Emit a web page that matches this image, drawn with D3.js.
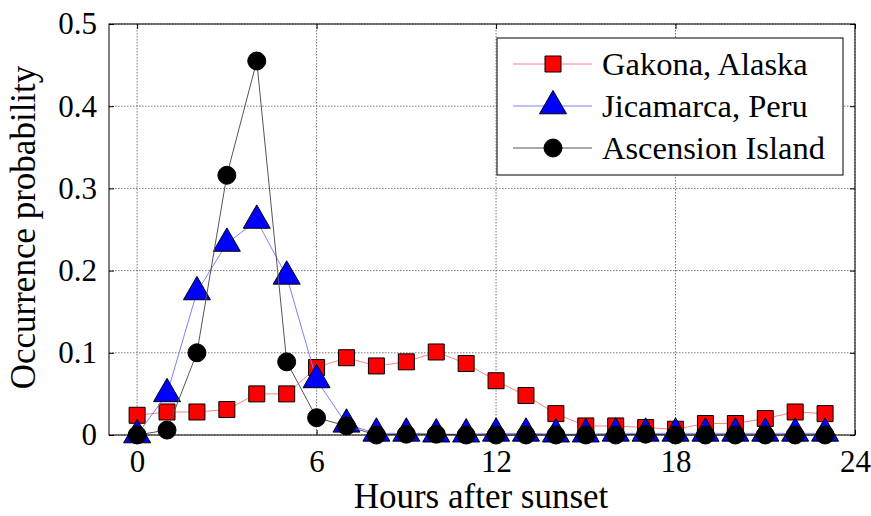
<!DOCTYPE html>
<html>
<head>
<meta charset="utf-8">
<script src="https://cdn.jsdelivr.net/npm/d3@7"></script>
<style>
  body { margin: 0; background: #fff; }
  svg { display: block; }
  text { font-family: "Liberation Serif", "Times New Roman", serif; fill: #000; }
</style>
</head>
<body>
<svg id="chart" width="871" height="516"></svg>
<script>
// ---- data ----
const hours = [0,1,2,3,4,5,6,7,8,9,10,11,12,13,14,15,16,17,18,19,20,21,22,23];
const gakona = [0.024,0.028,0.028,0.031,0.050,0.050,0.082,0.094,0.084,0.089,0.101,0.087,0.066,0.048,0.026,0.011,0.011,0.009,0.007,0.014,0.014,0.020,0.028,0.026];
const jicamarca = [0.000,0.050,0.174,0.233,0.261,0.193,0.067,0.013,0.002,0.002,0.001,0.001,0.002,0.002,0.001,0.001,0.002,0.002,0.002,0.002,0.002,0.002,0.002,0.002];
const ascension = [0.000,0.006,0.100,0.316,0.455,0.089,0.021,0.011,0.000,0.001,0.001,0.000,0.000,0.000,0.000,0.000,0.000,0.001,0.000,0.000,0.000,0.000,0.000,0.000];
const seriesNames = ["Gakona, Alaska", "Jicamarca, Peru", "Ascension Island"];
const xTicks = [0, 6, 12, 18, 24];
const yTicks = [0, 0.1, 0.2, 0.3, 0.4, 0.5];
const xLabel = "Hours after sunset";
const yLabel = "Occurrence probability";

// ---- layout ----
const FONT = "'Liberation Serif', 'Times New Roman', serif";
const svg = d3.select("#chart");
const L = 109, R = 855, T = 24, B = 435;
const x = d3.scaleLinear().domain([-0.94, 24]).range([L, R]);
const y = d3.scaleLinear().domain([0, 0.5]).range([B, T]);

const styles = [
  { line: "#ff8080", fill: "#ff0000", symbol: d3.symbolSquare, size: 256 },
  { line: "#8080ff", fill: "#0000ff", symbol: d3.symbolTriangle, size: 315 },
  { line: "#555555", fill: "#000000", symbol: d3.symbolCircle, size: 254 }
];
const allSeries = [gakona, jicamarca, ascension];

// grid
const grid = svg.append("g");
xTicks.forEach(t => {
  grid.append("line").attr("x1", x(t)).attr("x2", x(t)).attr("y1", T).attr("y2", B)
    .attr("stroke", "#777").attr("stroke-width", 1).attr("stroke-dasharray", "1.5,1.5");
});
yTicks.forEach(t => {
  grid.append("line").attr("x1", L).attr("x2", R).attr("y1", y(t)).attr("y2", y(t))
    .attr("stroke", "#777").attr("stroke-width", 1).attr("stroke-dasharray", "1.5,1.5");
});

// axes (inward ticks, all sides)
const tickLen = 5;
const axB = d3.axisBottom(x).tickValues(xTicks).tickSize(-tickLen).tickPadding(15).tickFormat(d3.format("d"));
const axT = d3.axisTop(x).tickValues(xTicks).tickSize(-tickLen).tickFormat("");
const axLf = d3.axisLeft(y).tickValues(yTicks).tickSize(-tickLen).tickPadding(12).tickFormat(d => d === 0 ? "0" : d3.format(".1f")(d));
const axRt = d3.axisRight(y).tickValues(yTicks).tickSize(-tickLen).tickFormat("");

function styleAxis(g) {
  g.attr("font-family", null).attr("font-size", null);
  g.select(".domain").remove();
  g.selectAll(".tick line").attr("stroke", "#000").attr("stroke-width", 1);
  g.selectAll(".tick text").style("font-family", FONT).style("font-size", "31px").attr("fill", "#000");
}
svg.append("g").attr("transform", `translate(0,${B})`).call(axB).call(styleAxis);
svg.append("g").attr("transform", `translate(0,${T})`).call(axT).call(styleAxis);
svg.append("g").attr("transform", `translate(${L},0)`).call(axLf).call(styleAxis);
svg.append("g").attr("transform", `translate(${R},0)`).call(axRt).call(styleAxis);

// series
const plot = svg.append("g");
allSeries.forEach((vals, i) => {
  const st = styles[i];
  const data = hours.map((h, j) => ({ h, v: vals[j] }));
  const line = d3.line().x(d => x(d.h)).y(d => y(d.v));
  plot.append("path").datum(data).attr("d", line)
    .attr("fill", "none").attr("stroke", st.line).attr("stroke-width", 1);
  const sym = d3.symbol().type(st.symbol).size(st.size);
  plot.selectAll(null).data(data).enter().append("path")
    .attr("d", sym)
    .attr("transform", d => `translate(${x(d.h)},${y(d.v)})`)
    .attr("fill", st.fill).attr("stroke", "#000").attr("stroke-width", 1);
});

// box
svg.append("rect").attr("x", L).attr("y", T).attr("width", R - L).attr("height", B - T)
  .attr("fill", "none").attr("stroke", "#000").attr("stroke-width", 1);

// labels
svg.append("text").attr("x", (L + R) / 2 - 1).attr("y", 508).attr("text-anchor", "middle")
  .style("font-family", FONT).style("font-size", "35px").text(xLabel);
svg.append("text").attr("transform", `translate(35,${(T + B) / 2 - 2}) rotate(-90)`)
  .attr("text-anchor", "middle").style("font-family", FONT).style("font-size", "35px").text(yLabel);

// legend
const lg = svg.append("g");
const LX0 = 497, LX1 = 843, LY0 = 38, LY1 = 175;
lg.append("rect").attr("x", LX0).attr("y", LY0).attr("width", LX1 - LX0).attr("height", LY1 - LY0)
  .attr("fill", "#fff").attr("stroke", "#000").attr("stroke-width", 1);
const rowY = [64, 106, 148];
seriesNames.forEach((name, i) => {
  const st = styles[i];
  lg.append("line").attr("x1", 513).attr("x2", 592).attr("y1", rowY[i]).attr("y2", rowY[i])
    .attr("stroke", st.line).attr("stroke-width", 1);
  lg.append("path").attr("d", d3.symbol().type(st.symbol).size(st.size)())
    .attr("transform", `translate(553,${rowY[i]})`)
    .attr("fill", st.fill).attr("stroke", "#000").attr("stroke-width", 1);
  lg.append("text").attr("x", 602).attr("y", rowY[i] + 11)
    .style("font-family", FONT).style("font-size", "32.5px").text(name);
});
</script>
</body>
</html>
